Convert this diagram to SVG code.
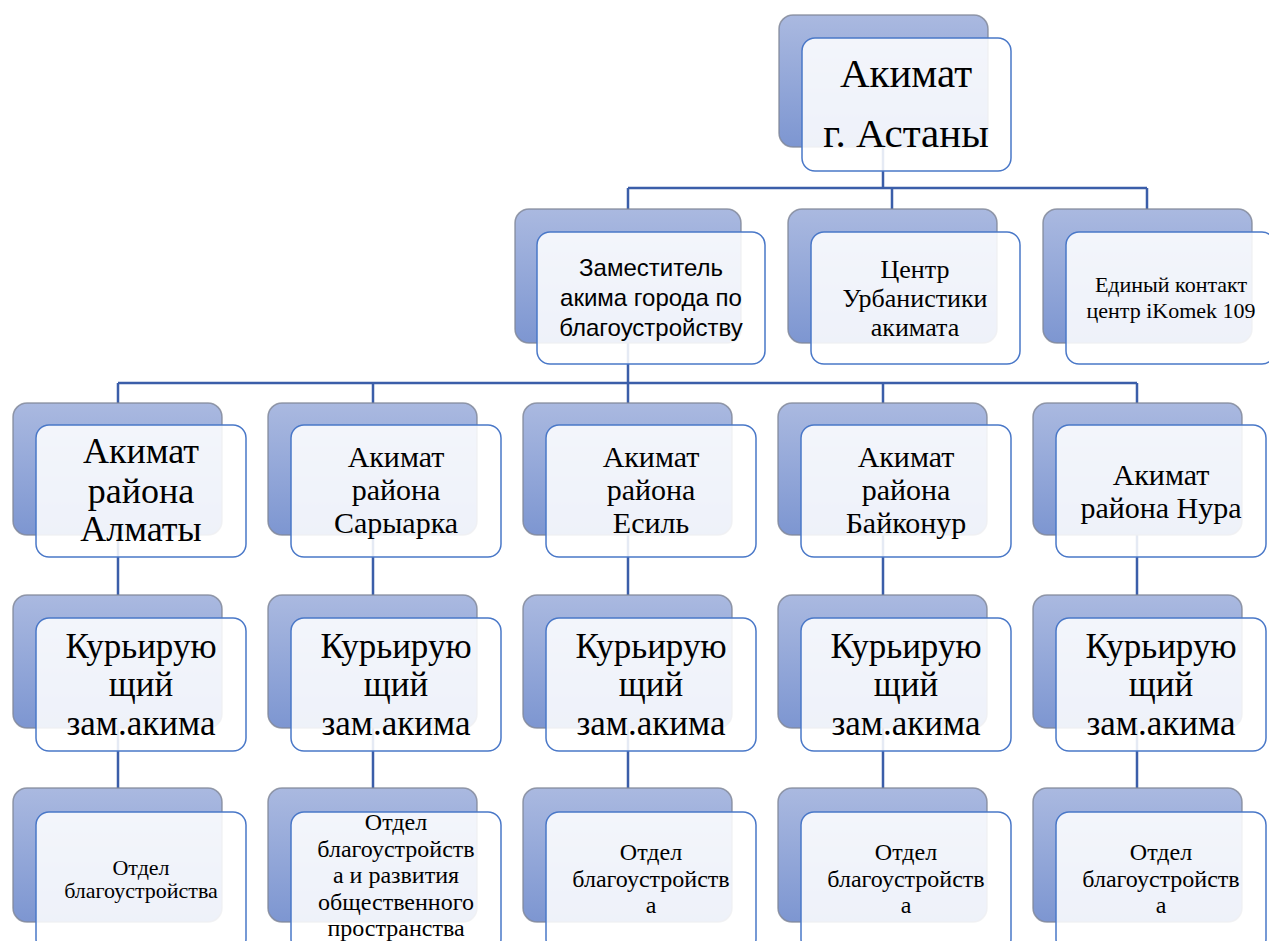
<svg xmlns="http://www.w3.org/2000/svg" width="1269" height="941" viewBox="0 0 1269 941">
<defs>
<linearGradient id="bg" x1="0" y1="0" x2="0" y2="1">
<stop offset="0" stop-color="#aab9e0"/>
<stop offset="1" stop-color="#7d96d1"/>
</linearGradient>
<style>
.back{fill:url(#bg);stroke:#7f8696;stroke-opacity:0.8;stroke-width:1.5}
.front{fill:#ffffff;fill-opacity:0.87;stroke:#4a78c8;stroke-width:1.5}
.conn{fill:none;stroke:#3b5ea9;stroke-width:2.5}
.s{font-family:'Liberation Serif','Times New Roman',serif;fill:#000;text-anchor:middle}
.a{font-family:'Liberation Sans',Arial,sans-serif;fill:#000;text-anchor:middle}
</style>
</defs>
<rect width="1269" height="941" fill="#ffffff"/>
<g id="connectors" class="conn">
<path d="M883 147V188M628 188H1147M628 188V209M892 188V209M1147 188V209"/>
<path d="M628 343V383M118 383H1137M118 383V403M373 383V403M628 383V403M883 383V403M1137 383V403"/>
<path d="M118 535V595M373 535V595M628 535V595M883 535V595M1137 535V595"/>
<path d="M118 728V788M373 728V788M628 728V788M883 728V788M1137 728V788"/>
</g>
<g id="n-akimat">
<rect class="back" x="779" y="15" width="209" height="132" rx="14"/>
<rect class="front" x="802" y="38" width="209" height="133" rx="13"/>
<text class="s" font-size="41" x="906" y="87">Акимат</text>
<text class="s" font-size="41" x="906" y="147">г. Астаны</text>
</g>
<g id="n-zam">
<rect class="back" x="515" y="209" width="226" height="134" rx="14"/>
<rect class="front" x="537" y="232" width="228" height="132" rx="13"/>
<text class="a" font-size="24" x="651" y="276">Заместитель</text>
<text class="a" font-size="24" x="651" y="306">акима города по</text>
<text class="a" font-size="24" x="651" y="336">благоустройству</text>
</g>
<g id="n-urban">
<rect class="back" x="788" y="209" width="209" height="134" rx="14"/>
<rect class="front" x="811" y="232" width="209" height="132" rx="13"/>
<text class="s" font-size="26" x="915" y="278">Центр</text>
<text class="s" font-size="26" x="915" y="307">Урбанистики</text>
<text class="s" font-size="26" x="915" y="336">акимата</text>
</g>
<g id="n-ikomek">
<rect class="back" x="1043" y="209" width="209" height="134" rx="14"/>
<rect class="front" x="1066" y="232" width="209" height="132" rx="13"/>
<text class="s" font-size="22" x="1171" y="292">Единый контакт</text>
<text class="s" font-size="22" x="1171" y="318">центр iKomek 109</text>
</g>
<g id="n-almaty">
<rect class="back" x="13" y="403" width="209" height="132" rx="14"/>
<rect class="front" x="36" y="425" width="210" height="132" rx="13"/>
<text class="s" font-size="36" x="141" y="463">Акимат</text>
<text class="s" font-size="36" x="141" y="503">района</text>
<text class="s" font-size="36" x="141" y="541">Алматы</text>
</g>
<g id="n-saryarka">
<rect class="back" x="268" y="403" width="209" height="132" rx="14"/>
<rect class="front" x="291" y="425" width="210" height="132" rx="13"/>
<text class="s" font-size="30" x="396" y="467">Акимат</text>
<text class="s" font-size="30" x="396" y="500">района</text>
<text class="s" font-size="30" x="396" y="533">Сарыарка</text>
</g>
<g id="n-esil">
<rect class="back" x="523" y="403" width="209" height="132" rx="14"/>
<rect class="front" x="546" y="425" width="210" height="132" rx="13"/>
<text class="s" font-size="30" x="651" y="467">Акимат</text>
<text class="s" font-size="30" x="651" y="500">района</text>
<text class="s" font-size="30" x="651" y="533">Есиль</text>
</g>
<g id="n-baikonur">
<rect class="back" x="778" y="403" width="209" height="132" rx="14"/>
<rect class="front" x="801" y="425" width="210" height="132" rx="13"/>
<text class="s" font-size="30" x="906" y="467">Акимат</text>
<text class="s" font-size="30" x="906" y="500">района</text>
<text class="s" font-size="30" x="906" y="533">Байконур</text>
</g>
<g id="n-nura">
<rect class="back" x="1033" y="403" width="209" height="132" rx="14"/>
<rect class="front" x="1056" y="425" width="210" height="132" rx="13"/>
<text class="s" font-size="30" x="1161" y="485">Акимат</text>
<text class="s" font-size="30" x="1161" y="518">района Нура</text>
</g>
<g id="n-zam1">
<rect class="back" x="13" y="595" width="209" height="133" rx="14"/>
<rect class="front" x="36" y="618" width="210" height="133" rx="13"/>
<text class="s" font-size="35" x="141" y="658">Курьирую</text>
<text class="s" font-size="35" x="141" y="696">щий</text>
<text class="s" font-size="35" x="141" y="735">зам.акима</text>
</g>
<g id="n-zam2">
<rect class="back" x="268" y="595" width="209" height="133" rx="14"/>
<rect class="front" x="291" y="618" width="210" height="133" rx="13"/>
<text class="s" font-size="35" x="396" y="658">Курьирую</text>
<text class="s" font-size="35" x="396" y="696">щий</text>
<text class="s" font-size="35" x="396" y="735">зам.акима</text>
</g>
<g id="n-zam3">
<rect class="back" x="523" y="595" width="209" height="133" rx="14"/>
<rect class="front" x="546" y="618" width="210" height="133" rx="13"/>
<text class="s" font-size="35" x="651" y="658">Курьирую</text>
<text class="s" font-size="35" x="651" y="696">щий</text>
<text class="s" font-size="35" x="651" y="735">зам.акима</text>
</g>
<g id="n-zam4">
<rect class="back" x="778" y="595" width="209" height="133" rx="14"/>
<rect class="front" x="801" y="618" width="210" height="133" rx="13"/>
<text class="s" font-size="35" x="906" y="658">Курьирую</text>
<text class="s" font-size="35" x="906" y="696">щий</text>
<text class="s" font-size="35" x="906" y="735">зам.акима</text>
</g>
<g id="n-zam5">
<rect class="back" x="1033" y="595" width="209" height="133" rx="14"/>
<rect class="front" x="1056" y="618" width="210" height="133" rx="13"/>
<text class="s" font-size="35" x="1161" y="658">Курьирую</text>
<text class="s" font-size="35" x="1161" y="696">щий</text>
<text class="s" font-size="35" x="1161" y="735">зам.акима</text>
</g>
<g id="n-otdel1">
<rect class="back" x="13" y="788" width="209" height="134" rx="14"/>
<rect class="front" x="36" y="812" width="210" height="140" rx="13"/>
<text class="s" font-size="22" x="141" y="875">Отдел</text>
<text class="s" font-size="22" x="141" y="898">благоустройства</text>
</g>
<g id="n-otdel2">
<rect class="back" x="268" y="788" width="209" height="134" rx="14"/>
<rect class="front" x="291" y="812" width="210" height="140" rx="13"/>
<text class="s" font-size="24" x="396" y="830">Отдел</text>
<text class="s" font-size="24" x="396" y="857">благоустройств</text>
<text class="s" font-size="24" x="396" y="883">а и развития</text>
<text class="s" font-size="24" x="396" y="910">общественного</text>
<text class="s" font-size="24" x="396" y="936">пространства</text>
</g>
<g id="n-otdel3">
<rect class="back" x="523" y="788" width="209" height="134" rx="14"/>
<rect class="front" x="546" y="812" width="210" height="140" rx="13"/>
<text class="s" font-size="24" x="651" y="860">Отдел</text>
<text class="s" font-size="24" x="651" y="887">благоустройств</text>
<text class="s" font-size="24" x="651" y="913">а</text>
</g>
<g id="n-otdel4">
<rect class="back" x="778" y="788" width="209" height="134" rx="14"/>
<rect class="front" x="801" y="812" width="210" height="140" rx="13"/>
<text class="s" font-size="24" x="906" y="860">Отдел</text>
<text class="s" font-size="24" x="906" y="887">благоустройств</text>
<text class="s" font-size="24" x="906" y="913">а</text>
</g>
<g id="n-otdel5">
<rect class="back" x="1033" y="788" width="209" height="134" rx="14"/>
<rect class="front" x="1056" y="812" width="210" height="140" rx="13"/>
<text class="s" font-size="24" x="1161" y="860">Отдел</text>
<text class="s" font-size="24" x="1161" y="887">благоустройств</text>
<text class="s" font-size="24" x="1161" y="913">а</text>
</g>
</svg>
